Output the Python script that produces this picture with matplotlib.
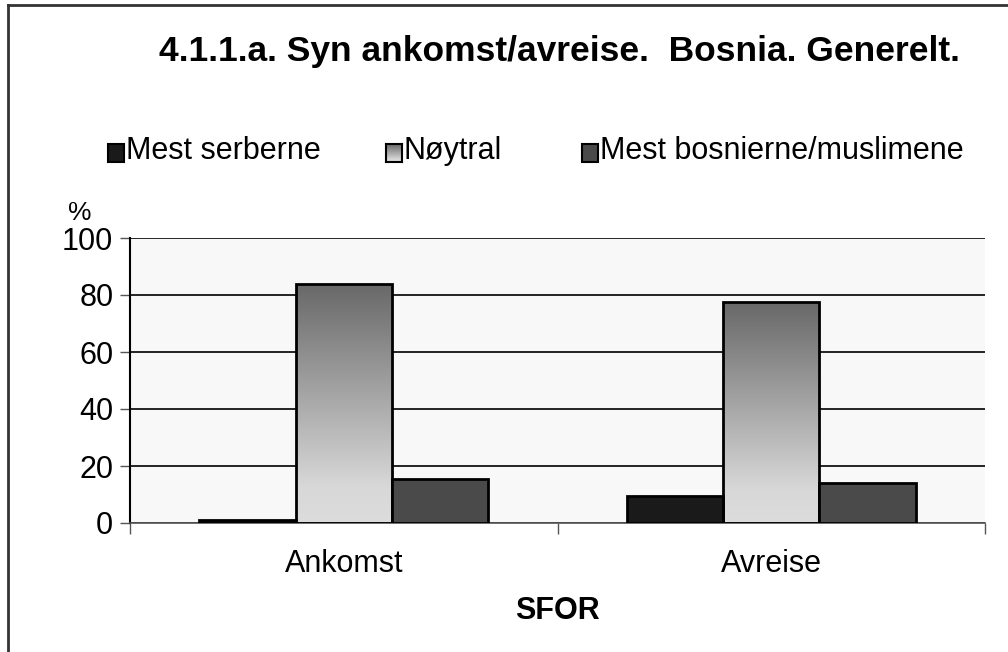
import numpy as np
import matplotlib
matplotlib.use("Agg")
import matplotlib.pyplot as plt
from matplotlib.patches import Rectangle
from matplotlib.lines import Line2D
from matplotlib.colors import LinearSegmentedColormap

plt.rcParams['font.family'] = ['Liberation Sans', 'DejaVu Sans']

categories = ['Ankomst', 'Avreise']
series = ['Mest serberne', 'Nøytral', 'Mest bosnierne/muslimene']
serb = [1, 9.5]
noytral = [84, 77.5]
bosnia = [15.5, 14]

W, H = 1008, 652
fig = plt.figure(figsize=(W / 100, H / 100), dpi=100, facecolor='white')
ax = fig.add_axes([130/W, 1 - 523/H, 855/W, 285/H])
ax.set_facecolor('#f8f8f8')

x = np.arange(len(categories))
w = 0.225
grad = LinearSegmentedColormap.from_list(
    'g', [(0, '#dcdcdc'), (0.15, '#d8d8d8'), (1, '#686868')])
gimg = np.linspace(0, 1, 256).reshape(-1, 1)

for vals, off, col in [(serb, -w, '#1a1a1a'), (noytral, 0, None), (bosnia, w, '#4a4a4a')]:
    bars = ax.bar(x + off, vals, w, facecolor=col if col else 'none',
                  edgecolor='black', linewidth=2, zorder=3)
    if col is None:
        for b in bars:
            im = ax.imshow(gimg, cmap=grad, origin='lower', aspect='auto',
                           extent=[b.get_x(), b.get_x() + b.get_width(), 0, b.get_height()],
                           zorder=2.5)
            im.set_clip_path(b)

ax.set_xlim(-0.5, 1.5)
ax.set_ylim(0, 100)
ax.set_yticks([0, 20, 40, 60, 80, 100])
ax.yaxis.grid(True, color='black', linewidth=1.2, zorder=1)
ax.set_xticks([-0.5, 0.5, 1.5])
ax.set_xticklabels([])
ax.tick_params(axis='x', length=8, width=1, color='#555555')
ax.tick_params(axis='y', length=7, width=1, labelsize=22, pad=5, color='#555555')
for s in ['top', 'right']:
    ax.spines[s].set_visible(False)
ax.spines['left'].set_linewidth(1.5)
ax.spines['bottom'].set_linewidth(1.2)
ax.spines['bottom'].set_color('#555555')

for xi, c in zip(x, categories):
    ax.text(xi, -14.5, c, ha='center', va='center', fontsize=22)
ax.text(0.5, -31, 'SFOR', ha='center', va='center', fontsize=22, fontweight='bold')
fig.text(80/W, 1 - 213/H, '%', ha='center', va='center', fontsize=19)

fig.text(559/W, 1 - 52/H, '4.1.1.a. Syn ankomst/avreise.  Bosnia. Generelt.',
         ha='center', va='center', fontsize=25.5, fontweight='bold')

# legend
leg_items = [(108, series[0], '#1a1a1a'), (386, series[1], None), (582, series[2], '#4a4a4a')]
for lx, label, col in leg_items:
    if col is None:
        lax = fig.add_axes([lx/W, 1 - 162/H, 16/W, 18/H])
        lax.imshow(gimg, cmap=grad, origin='lower', aspect='auto')
        lax.set_xticks([])
        lax.set_yticks([])
        for s in lax.spines.values():
            s.set_linewidth(1.5)
    else:
        fig.patches.append(Rectangle((lx/W, 1 - 162/H), 16/W, 18/H,
                                     transform=fig.transFigure, facecolor=col,
                                     edgecolor='black', linewidth=1.5))
    fig.text((lx + 18)/W, 1 - 151/H, label, ha='left', va='center', fontsize=22)

# outer frame (top and left only)
fig.lines.append(Line2D([8/W, 1], [1 - 5/H, 1 - 5/H], transform=fig.transFigure,
                        color='#333333', linewidth=2))
fig.lines.append(Line2D([8/W, 8/W], [0, 1 - 5/H], transform=fig.transFigure,
                        color='#333333', linewidth=2))

fig.savefig('out.png', dpi=100, facecolor='white')
